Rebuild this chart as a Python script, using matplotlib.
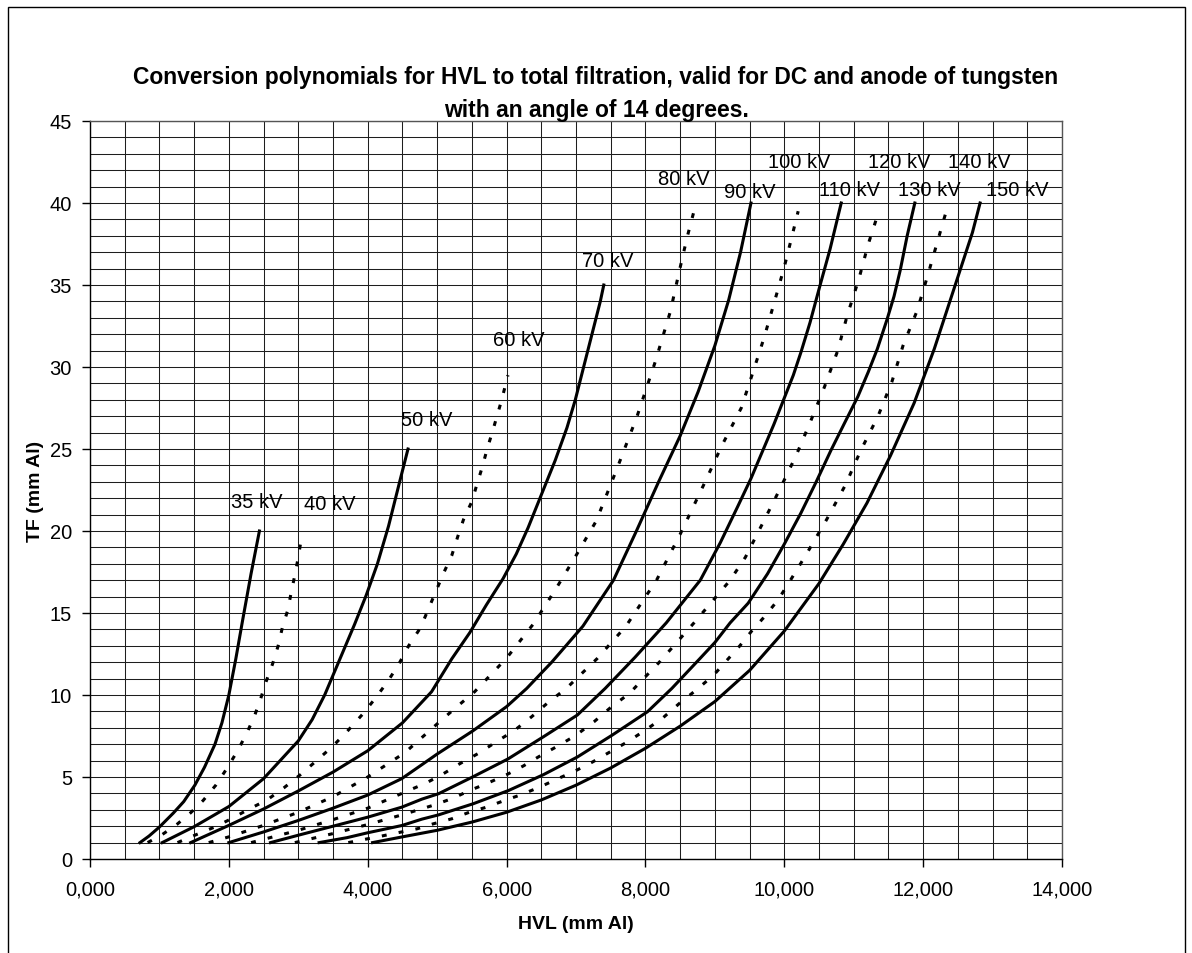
import matplotlib
matplotlib.use('Agg')
import matplotlib.pyplot as plt
from matplotlib.ticker import MultipleLocator, FuncFormatter
from matplotlib.patches import Rectangle

plt.rcParams['font.family'] = ['Liberation Sans', 'DejaVu Sans']

# ---- data: HVL (mm Al) and TF (mm Al) per tube voltage ----
hvl_35 = [0.72, 0.85, 1.0, 1.2, 1.35, 1.51, 1.65, 1.8, 1.9, 2.0, 2.1, 2.2, 2.32, 2.44]
tf_35 = [1, 1.4, 1.95, 2.8, 3.5, 4.5, 5.6, 7.0, 8.3, 10, 12.2, 14.6, 17.4, 20]

hvl_40 = [0.83, 1.04, 1.26, 1.45, 1.63, 1.81, 1.97, 2.13, 2.26, 2.37, 2.46, 2.54, 2.63, 2.71, 2.77, 2.85, 2.90, 2.95, 3.0, 3.05]
tf_40 = [1, 1.49, 2.14, 2.82, 3.57, 4.49, 5.51, 6.63, 7.69, 8.73, 9.8, 10.86, 11.9, 13.0, 14.1, 15.2, 16.3, 17.3, 18.4, 19.7]

hvl_50 = [1.04, 1.5, 2.0, 2.5, 3.0, 3.2, 3.38, 3.5, 3.65, 3.81, 3.98, 4.14, 4.3, 4.46, 4.58]
tf_50 = [1, 1.97, 3.2, 4.9, 7.2, 8.5, 10.0, 11.2, 12.7, 14.3, 16.1, 18.0, 20.3, 23.0, 25]

hvl_60 = [1.26, 1.51, 1.78, 2.02, 2.28, 2.55, 2.79, 3.03, 3.25, 3.49, 3.70, 3.92, 4.11, 4.30, 4.45, 4.59, 4.76, 4.87, 4.99, 5.10, 5.21, 5.30, 5.38, 5.50, 5.57, 5.65, 5.72, 5.80, 5.93, 6.02]
tf_60 = [1, 1.45, 1.92, 2.42, 3.02, 3.6, 4.33, 5.14, 5.95, 6.85, 7.76, 8.8, 9.8, 10.9, 11.9, 13.0, 14.1, 15.2, 16.4, 17.5, 18.5, 19.7, 20.7, 21.8, 22.8, 23.9, 25, 26.1, 28, 29.5]

hvl_70 = [1.45, 2.0, 2.5, 3.0, 3.5, 4.0, 4.5, 4.92, 5.21, 5.47, 5.71, 5.95, 6.14, 6.31, 6.5, 6.70, 6.87, 6.99, 7.17, 7.35, 7.40]
tf_70 = [1, 2.05, 3.05, 4.15, 5.3, 6.6, 8.3, 10.2, 12.2, 13.8, 15.5, 17.1, 18.6, 20.2, 22.2, 24.3, 26.3, 28, 31, 34, 35]

hvl_80 = [1.71, 2.0, 2.5, 3.0, 3.5, 4.0, 4.54, 5.03, 5.28, 5.54, 6.0, 6.38, 6.70, 7.0, 7.29, 7.59, 7.88, 8.14, 8.36, 8.48, 8.60, 8.73]
tf_80 = [1, 1.35, 2.05, 2.85, 3.8, 5.0, 6.5, 8.35, 9.27, 10.2, 12.25, 14.3, 16.4, 18.5, 20.6, 23.8, 27.0, 30.3, 33.4, 35.7, 37.9, 40]

hvl_90 = [2.0, 2.5, 3.0, 3.5, 4.0, 4.49, 4.78, 5.0, 5.51, 6.0, 6.29, 6.65, 7.1, 7.54, 7.87, 8.19, 8.5, 8.76, 9.0, 9.2, 9.37, 9.52]
tf_90 = [1, 1.65, 2.35, 3.1, 3.9, 4.9, 5.75, 6.4, 7.8, 9.29, 10.4, 12.0, 14.2, 17, 20, 23, 25.8, 28.5, 31.3, 34.1, 37.0, 40]

hvl_100 = [2.32, 3.0, 3.5, 4.0, 4.59, 4.84, 5.09, 5.33, 5.59, 5.85, 6.12, 6.36, 6.6, 6.86, 7.3, 7.72, 8.16, 8.5, 8.86, 9.1, 9.38, 9.55, 9.71, 9.86, 10.0, 10.13, 10.2]
tf_100 = [1, 1.75, 2.4, 3.1, 4.18, 4.63, 5.2, 5.82, 6.43, 7.14, 7.86, 8.67, 9.55, 10.4, 12.2, 14.2, 17, 19.8, 23, 25.2, 27.5, 29.7, 31.8, 34, 36.1, 38.3, 39.5]

hvl_110 = [2.6, 3.0, 3.5, 4.0, 4.49, 4.78, 5.02, 5.51, 6.02, 6.53, 7.02, 7.42, 7.85, 8.3, 8.79, 9.08, 9.33, 9.52, 9.69, 9.85, 9.99, 10.13, 10.24, 10.37, 10.51, 10.66, 10.82]
tf_110 = [1, 1.45, 2.0, 2.55, 3.16, 3.65, 3.98, 5.0, 6.1, 7.45, 8.78, 10.4, 12.3, 14.4, 17, 19.3, 21.5, 23.2, 24.9, 26.5, 28.0, 29.5, 30.9, 32.7, 34.9, 37.2, 40]

hvl_120 = [2.95, 3.5, 4.0, 4.5, 4.97, 5.23, 5.47, 5.73, 6.0, 6.24, 6.5, 6.76, 7.0, 7.26, 7.5, 7.77, 8.2, 8.7, 9.22, 9.44, 9.68, 9.93, 10.17, 10.38, 10.58, 10.77, 10.91, 11.07, 11.21, 11.37]
tf_120 = [1, 1.55, 2.1, 2.7, 3.31, 3.71, 4.18, 4.63, 5.14, 5.67, 6.33, 6.94, 7.55, 8.37, 9.24, 10.1, 12.0, 14.4, 17, 18.4, 20.4, 22.5, 24.6, 26.7, 28.8, 31.0, 33.2, 35.3, 37.5, 39.6]

hvl_130 = [3.3, 3.7, 4.0, 4.49, 4.78, 5.02, 5.52, 6.03, 6.53, 7.02, 7.52, 8.03, 8.38, 8.78, 9.0, 9.22, 9.48, 9.76, 10.0, 10.24, 10.46, 10.67, 10.87, 11.06, 11.21, 11.34, 11.48, 11.58, 11.67, 11.77, 11.88]
tf_130 = [1, 1.3, 1.6, 2.04, 2.43, 2.69, 3.37, 4.18, 5.14, 6.22, 7.55, 8.98, 10.4, 12.2, 13.2, 14.4, 15.6, 17.4, 19.2, 21.1, 23.0, 24.9, 26.6, 28.2, 29.7, 31.1, 32.9, 34.3, 35.9, 38, 40]

hvl_140 = [3.72, 4.2, 4.71, 4.94, 5.21, 5.47, 5.71, 5.97, 6.21, 6.48, 6.74, 6.98, 7.24, 7.49, 7.74, 8.0, 8.25, 8.49, 8.73, 8.98, 9.17, 9.36, 9.53, 9.72, 9.91, 10.06, 10.32, 10.61, 10.88, 11.1, 11.35, 11.55, 11.71, 11.91, 12.06, 12.21, 12.36]
tf_140 = [1, 1.4, 1.84, 2.14, 2.45, 2.86, 3.16, 3.57, 3.92, 4.39, 4.9, 5.35, 5.92, 6.53, 7.14, 7.86, 8.6, 9.49, 10.3, 11.2, 12.1, 13.0, 13.9, 14.8, 15.8, 16.8, 18.6, 20.7, 22.8, 24.9, 27.0, 29.1, 31.3, 33.4, 35.5, 37.7, 39.9]

hvl_150 = [4.07, 4.5, 5.0, 5.5, 6.0, 6.5, 7.0, 7.5, 8.0, 8.5, 9.0, 9.5, 10.0, 10.5, 10.85, 11.19, 11.53, 11.87, 12.16, 12.47, 12.71, 12.82]
tf_150 = [1, 1.35, 1.75, 2.25, 2.85, 3.6, 4.5, 5.55, 6.75, 8.1, 9.6, 11.5, 13.9, 16.8, 19.2, 21.7, 24.6, 27.8, 31.1, 35.1, 38.2, 40]

series_labels = ['35 kV', '40 kV', '50 kV', '60 kV', '70 kV', '80 kV', '90 kV',
                 '100 kV', '110 kV', '120 kV', '130 kV', '140 kV', '150 kV']
series_hvl = [hvl_35, hvl_40, hvl_50, hvl_60, hvl_70, hvl_80, hvl_90,
              hvl_100, hvl_110, hvl_120, hvl_130, hvl_140, hvl_150]
series_tf = [tf_35, tf_40, tf_50, tf_60, tf_70, tf_80, tf_90,
             tf_100, tf_110, tf_120, tf_130, tf_140, tf_150]
# label anchor (centre) positions in data units
label_x = [2.40, 3.45, 4.85, 6.18, 7.46, 8.55, 9.50, 10.21, 10.94, 11.65, 12.09, 12.81, 13.36]
label_y = [21.8, 21.7, 26.8, 31.7, 36.5, 41.5, 40.7, 42.55, 40.8, 42.55, 40.8, 42.55, 40.8]

title_text = ('Conversion polynomials for HVL to total filtration, valid for DC and anode of tungsten\n'
              'with an angle of 14 degrees.')

W, H = 1192, 954
fig = plt.figure(figsize=(W / 100, H / 100), dpi=100)
ax = fig.add_axes([90 / W, 1 - 860 / H, (1062 - 90) / W, (860 - 122) / H])

for i, (xs, ys) in enumerate(zip(series_hvl, series_tf)):
    if i % 2 == 0:
        ax.plot(xs, ys, color='black', lw=2.2, ls='-', solid_joinstyle='round', zorder=3)
    else:
        ax.plot(xs, ys, color='black', lw=2.2, ls=(0, (1.6, 4.0)), dash_capstyle='butt', zorder=3)

for lab, lx, ly in zip(series_labels, label_x, label_y):
    ax.text(lx, ly, lab, ha='center', va='center', fontsize=14.5, color='black', zorder=4)

ax.set_xlim(0, 14)
ax.set_ylim(0, 45)
ax.xaxis.set_major_locator(MultipleLocator(2))
ax.xaxis.set_minor_locator(MultipleLocator(0.5))
ax.yaxis.set_major_locator(MultipleLocator(5))
ax.yaxis.set_minor_locator(MultipleLocator(1))
ax.xaxis.set_major_formatter(FuncFormatter(lambda v, p: f'{v:.3f}'.replace('.', ',')))
ax.grid(which='both', color='#1e1e1e', lw=0.75)
ax.set_axisbelow(True)
ax.tick_params(which='major', direction='out', length=6, width=1, labelsize=14.5, color='black')
ax.tick_params(axis='y', which='major', pad=7)
ax.tick_params(axis='x', which='major', pad=9)
ax.tick_params(which='minor', length=0)
for s in ax.spines.values():
    s.set_color('#555555')
    s.set_linewidth(1)
ax.spines['left'].set_color('black')
ax.spines['bottom'].set_color('black')

ax.set_xlabel('HVL (mm Al)', fontsize=14, fontweight='bold', labelpad=12)
ax.set_ylabel('TF (mm Al)', fontsize=14, fontweight='bold', labelpad=4)

fig.text(596 / W, 1 - 94 / H, title_text, ha='center', va='center', fontsize=16.5,
         fontweight='bold', linespacing=1.55)

fig.patches.append(Rectangle((8 / W, -0.01), (1185 - 8) / W, 1 - 8 / H + 0.01,
                             transform=fig.transFigure, fill=False, lw=1, ec='black'))

fig.savefig('out.png', dpi=100)
